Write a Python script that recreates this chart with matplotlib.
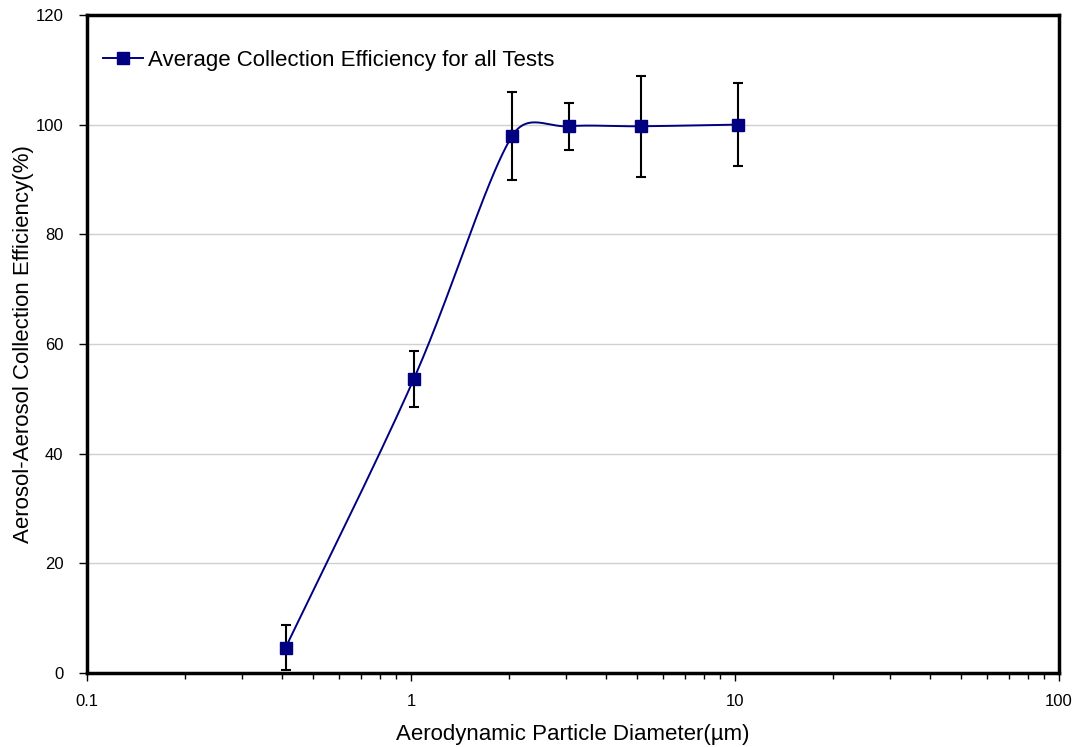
import numpy as np
import matplotlib
matplotlib.use("Agg")
import matplotlib.pyplot as plt
from matplotlib.ticker import FixedLocator, LogLocator, NullFormatter

plt.rcParams['font.family'] = ['Liberation Sans', 'DejaVu Sans']

# data
diameter = [0.41, 1.02, 2.05, 3.08, 5.13, 10.24]
efficiency = [4.6, 53.6, 97.9, 99.7, 99.7, 100.0]
err = [4.1, 5.1, 8.0, 4.25, 9.2, 7.5]

NAVY = '#000080'


# excel style smoothed line: bezier segments built in pixel space,
# control arms limited to half the segment length
def smooth(ax, xs, ys, n=50):
    pts = ax.transData.transform(np.column_stack([xs, ys]))
    p = np.vstack([pts[0], pts, pts[-1]])
    out = []
    for i in range(1, len(p) - 2):
        a, b = p[i], p[i + 1]
        seg = np.hypot(*(b - a))
        t1 = (p[i + 1] - p[i - 1]) / 6.0
        t2 = (p[i + 2] - p[i]) / 6.0
        for t in (t1, t2):
            l = np.hypot(*t)
            if l > 0.5 * seg:
                t *= 0.5 * seg / l
        c1, c2 = a + t1, b - t2
        s = np.linspace(0, 1, n)[:, None]
        out.append((1 - s) ** 3 * a + 3 * (1 - s) ** 2 * s * c1 + 3 * (1 - s) * s ** 2 * c2 + s ** 3 * b)
    out = np.vstack(out)
    d = ax.transData.inverted().transform(out)
    return d[:, 0], d[:, 1]


fig = plt.figure(figsize=(10.79, 7.47), dpi=100)
ax = fig.add_axes([0.0806, 0.0991, 0.9009, 0.8809])

ax.set_xscale('log')
ax.set_xlim(0.1, 100)
ax.set_ylim(0, 120)

sx, sy = smooth(ax, diameter, efficiency)
ax.plot(sx, sy, color=NAVY, lw=1.4, zorder=3)
ax.errorbar(diameter, efficiency, yerr=err, fmt='none', ecolor='black',
            elinewidth=1.5, capsize=3.8, capthick=1.5, zorder=2)
ax.plot(diameter, efficiency, 's', color=NAVY, ms=9, zorder=4)
# legend handle
ax.plot([], [], '-s', color=NAVY, lw=1.4, ms=8,
        label='Average Collection Efficiency for all Tests')

ax.yaxis.set_major_locator(FixedLocator([0, 20, 40, 60, 80, 100, 120]))
ax.xaxis.set_major_locator(FixedLocator([0.1, 1, 10, 100]))
ax.set_xticklabels(['0.1', '1', '10', '100'])
ax.xaxis.set_minor_locator(LogLocator(base=10, subs=np.arange(2, 10)))
ax.xaxis.set_minor_formatter(NullFormatter())

ax.grid(axis='y', color='#d0d0d0', lw=1)
ax.set_axisbelow(True)
for s in ax.spines.values():
    s.set_linewidth(2.5)
    s.set_color('black')

ax.tick_params(axis='x', which='major', direction='out', length=6, width=1,
               labelsize=12, pad=9)
ax.tick_params(axis='y', which='major', direction='out', length=6, width=1,
               labelsize=12, pad=11)
ax.tick_params(axis='x', which='minor', direction='out', length=4, width=1)

ax.set_xlabel('Aerodynamic Particle Diameter(µm)', fontsize=16, labelpad=11)
ax.set_ylabel('Aerosol-Aerosol Collection Efficiency(%)', fontsize=16, labelpad=1)

ax.legend(loc='upper left', frameon=False, fontsize=16, handlelength=1.8,
          handletextpad=0.25, borderpad=0, borderaxespad=0,
          bbox_to_anchor=(0.016, 0.947))

fig.savefig('out.png', dpi=100)
